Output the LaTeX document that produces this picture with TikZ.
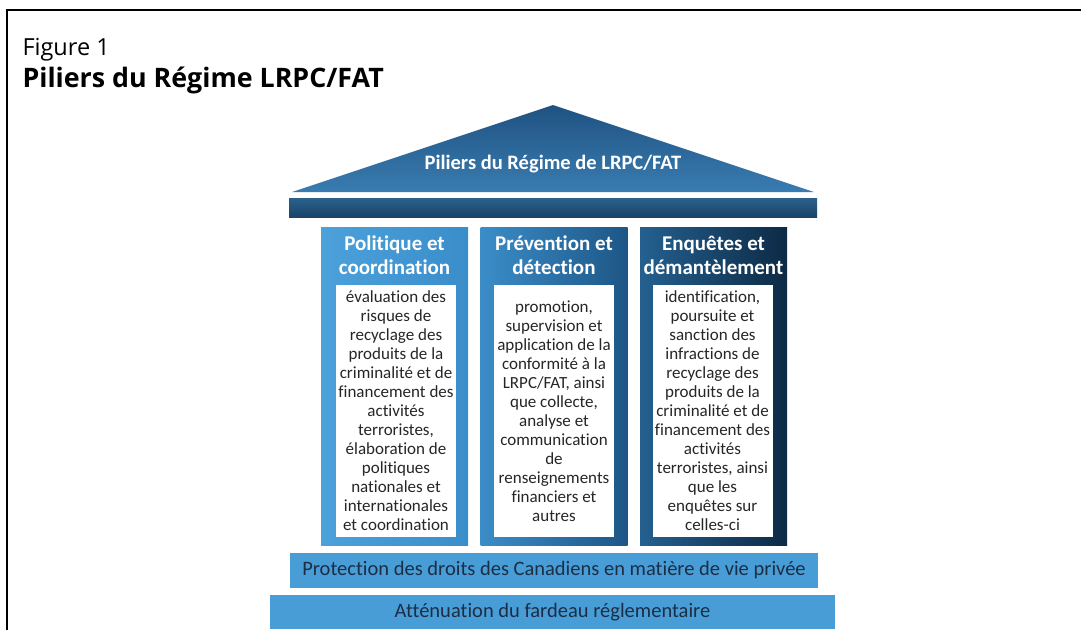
\documentclass[tikz,border=0pt]{standalone}
\usepackage{fontspec}
\setmainfont{Open Sans}
\newfontfamily\diagfont[Ligatures=NoCommon]{Carlito}
\usepackage{xcolor}
\usetikzlibrary{positioning}
\definecolor{ink}{HTML}{262626}
\definecolor{barink}{HTML}{1B2E45}
\definecolor{roofdark}{HTML}{1F5282}
\definecolor{rooflight}{HTML}{3A7CB0}
\definecolor{beamtop}{HTML}{2A608C}
\definecolor{beambot}{HTML}{1A4468}
\definecolor{polleft}{HTML}{4CA1DB}
\definecolor{polright}{HTML}{3A8DC9}
\definecolor{prevleft}{HTML}{3B8DC8}
\definecolor{prevright}{HTML}{1D5686}
\definecolor{enqleft}{HTML}{24608F}
\definecolor{enqright}{HTML}{0D2A45}
\definecolor{barblue}{HTML}{489DD7}
\tikzset{
  pillar/.style={minimum width=147pt,minimum height=318pt,inner sep=0pt},
  heading/.style={font=\diagfont\bfseries\fontsize{21}{24}\selectfont,
                  text=white,align=center,inner sep=0pt},
  bodybox/.style={fill=white,minimum width=120pt,minimum height=252pt,
                  inner sep=0pt},
  bodytext/.style={font=\diagfont\fontsize{17}{19}\selectfont,text=ink,
                   align=center,inner sep=0pt},
  basebar/.style={fill=barblue,inner sep=0pt,text=barink,
                  font=\diagfont\fontsize{20.5}{23}\selectfont}
}
\begin{document}
\begin{tikzpicture}[x=1pt,y=-1pt]
    \path[use as bounding box] (0,0) rectangle (1081,630);
    \draw[line width=2pt] (7,630) -- (7,10) -- (1081,10);

    \node[anchor=base west,font=\fontsize{23.5}{27}\selectfont] (fig) at (19,55)
      {Figure 1};
    \node[anchor=base west,font=\bfseries\fontsize{26.8}{30}\selectfont] (ttl)
      at (19,87) {Piliers du Régime LRPC/FAT};

    % roof and beam
    \shade[top color=roofdark,bottom color=rooflight]
      (292,192) -- (553,105) -- (814,192) -- cycle;
    \node[font=\diagfont\bfseries\fontsize{20.5}{24}\selectfont,text=white]
      (roof) at (553,164) {Piliers du Régime de LRPC/FAT};
    \node[top color=beamtop,bottom color=beambot,minimum width=528pt,
          minimum height=19pt,inner sep=0pt] (beam) at (553,207.5) {};

    % pillars
    \node[pillar,left color=polleft,right color=polright] (pol) at (394.5,386) {};
    \node[pillar,left color=prevleft,right color=prevright] (prev) at (554,386) {};
    \node[pillar,left color=enqleft,right color=enqright] (enq) at (713.5,386) {};

    \node[heading] (polh) at (394.5,255) {Politique et\\coordination};
    \node[heading] (prevh) at (554,255) {Prévention et\\détection};
    \node[heading] (enqh) at (713.5,255) {Enquêtes et\\démantèlement};

    \node[bodybox] (polb) at (396,411) {};
    \node[bodybox] (prevb) at (554,411) {};
    \node[bodybox] (enqb) at (712.5,411) {};

    \node[bodytext] (polt) at (polb) {évaluation des\\risques de\\recyclage des\\
      produits de la\\criminalité et de\\financement des\\activités\\terroristes,\\
      élaboration de\\politiques\\nationales et\\internationales\\et coordination};
    \node[bodytext] (prevt) at (prevb) {promotion,\\supervision et\\
      application de la\\conformité à la\\LRPC/FAT, ainsi\\que collecte,\\
      analyse et\\communication\\de\\renseignements\\financiers et\\autres};
    \node[bodytext] (enqt) at (enqb) {identification,\\poursuite et\\
      sanction des\\infractions de\\recyclage des\\produits de la\\
      criminalité et de\\financement des\\activités\\terroristes, ainsi\\
      que les\\enquêtes sur\\celles-ci};

    % foundations
    \node[basebar,minimum width=528pt,minimum height=35pt] (priv) at (554,570.5)
      {Protection des droits des Canadiens en matière de vie privée};
    \node[basebar,minimum width=565pt,minimum height=34pt] (burden) at (552.5,612)
      {Atténuation du fardeau réglementaire};
\end{tikzpicture}
\end{document}
